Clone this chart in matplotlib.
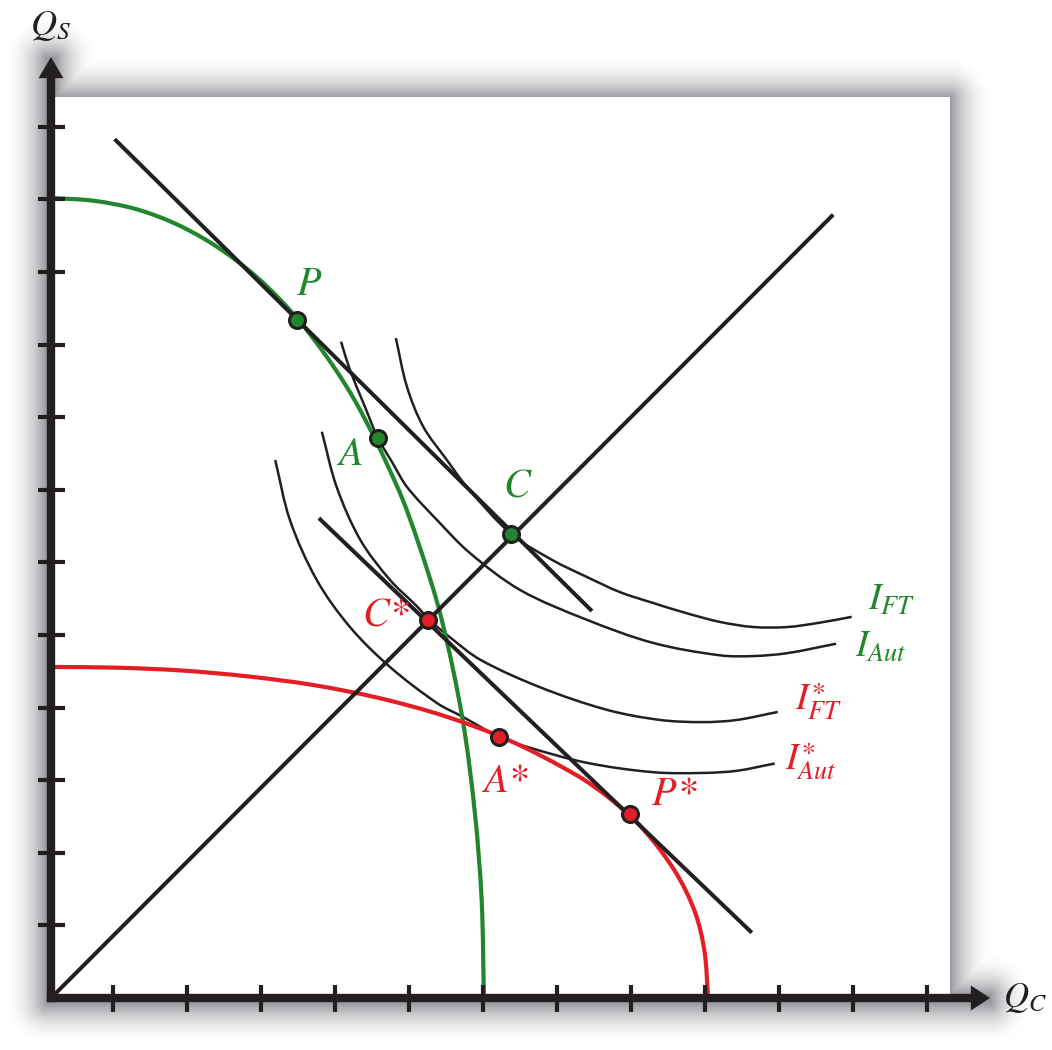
import numpy as np
import matplotlib
matplotlib.use('Agg')
import matplotlib.pyplot as plt
from matplotlib.path import Path
from matplotlib.patches import PathPatch

plt.rcParams['mathtext.fontset'] = 'stix'

# --- data (axis units: 1 unit = one tick step) ---
x_ticks = [0.84, 1.84, 2.84, 3.84, 4.84, 5.84, 6.84, 7.84, 8.84, 9.84, 10.84, 11.84]
y_ticks = [1, 2, 3, 4, 5, 6, 7, 8, 9, 10, 11, 12]

ppf_home_x = [0, 0.585, 1.17, 1.755, 2.34, 2.93, 3.51, 4.10, 4.68, 4.97, 5.27, 5.56, 5.73, 5.82, 5.85]
ppf_home_y = [11.02, 10.98, 10.86, 10.63, 10.28, 9.79, 9.13, 8.24, 7.04, 6.25, 5.25, 3.85, 2.53, 1.34, 0]

ppf_for_x = [0, 0.89, 1.78, 2.66, 3.55, 4.44, 5.33, 6.21, 7.10, 7.55, 7.99, 8.43, 8.70, 8.83, 8.88]
ppf_for_y = [4.56, 4.55, 4.51, 4.43, 4.31, 4.13, 3.88, 3.54, 3.07, 2.75, 2.34, 1.75, 1.19, 0.65, 0]

ic_ft_x = [4.66, 4.81, 5.03, 5.35, 5.62, 6.22, 6.78, 7.24, 7.69, 8.14, 8.59, 9.04, 9.49, 9.95, 10.39, 10.82]
ic_ft_y = [9.09, 8.42, 7.87, 7.41, 7.04, 6.39, 6.03, 5.80, 5.59, 5.44, 5.30, 5.18, 5.11, 5.11, 5.17, 5.25]

ic_aut_x = [3.92, 4.04, 4.22, 4.42, 4.61, 4.81, 5.22, 5.66, 6.34, 7.24, 8.14, 9.04, 9.49, 9.95, 10.61]
ic_aut_y = [9.04, 8.65, 8.20, 7.71, 7.38, 7.04, 6.58, 6.13, 5.62, 5.21, 4.89, 4.72, 4.71, 4.75, 4.88]

ic_ft_star_x = [3.66, 3.86, 4.18, 4.58, 4.95, 5.11, 5.39, 5.80, 6.61, 7.51, 8.23, 8.81, 9.27, 9.82]
ic_ft_star_y = [7.80, 7.04, 6.31, 5.76, 5.39, 5.21, 4.97, 4.66, 4.28, 3.97, 3.83, 3.80, 3.83, 3.94]

ic_aut_star_x = [3.03, 3.23, 3.59, 4.04, 4.58, 5.22, 5.57, 6.05, 6.43, 7.24, 8.14, 8.81, 9.27, 9.78]
ic_aut_star_y = [7.41, 6.58, 5.76, 5.11, 4.56, 4.06, 3.87, 3.60, 3.46, 3.24, 3.11, 3.10, 3.13, 3.23]

trade_home_x = [0.86, 7.31]
trade_home_y = [11.83, 5.33]
trade_for_x = [3.62, 9.47]
trade_for_y = [6.61, 0.90]
diag_x = [0, 10.57]
diag_y = [0, 10.79]

green_pts = {'P': (3.32, 9.34), 'A': (4.42, 7.71), 'C': (6.22, 6.39)}
red_pts = {'C*': (5.09, 5.21), 'A*': (6.05, 3.60), 'P*': (7.82, 2.53)}

green_labels = {'P': (3.49, 9.82), 'A': (4.04, 7.48), 'C': (6.30, 7.04)}
red_labels = {'C*': (4.52, 5.25), 'A*': (6.14, 2.98), 'P*': (8.43, 2.80)}

GREEN = '#22862F'
RED = '#E31E26'
INK = '#231f20'

# pixel scale of the reference
PX, PY = 74.0, 72.6
W, H = 1052, 1050
OX, OY = 51, 998
x_lo, x_hi = -OX / PX, (W - OX) / PX
y_lo, y_hi = (OY - H) / PY, OY / PY


def smooth_path(xs, ys):
    # chord-length Catmull-Rom drawn as cubic Bezier segments through the points
    p = np.column_stack([xs, ys]).astype(float)
    seg = np.hypot(*np.diff(p, axis=0).T)
    t = np.concatenate([[0], np.cumsum(seg)])
    n = len(p)
    m = np.zeros_like(p)
    for i in range(n):
        a, b = max(i - 1, 0), min(i + 1, n - 1)
        m[i] = (p[b] - p[a]) / (t[b] - t[a])
    verts = [p[0]]
    codes = [Path.MOVETO]
    for i in range(n - 1):
        h = seg[i] / 3
        verts += [p[i] + m[i] * h, p[i + 1] - m[i + 1] * h, p[i + 1]]
        codes += [Path.CURVE4] * 3
    return Path(verts, codes)


def draw_curve(ax, xs, ys, **kw):
    ax.add_patch(PathPatch(smooth_path(xs, ys), fill=False, capstyle='butt', **kw))


fig = plt.figure(figsize=(W / 100, H / 100), dpi=100)
ax = fig.add_axes([0, 0, 1, 1])
ax.set_xlim(x_lo, x_hi)
ax.set_ylim(y_lo, y_hi)
ax.axis('off')

# drop shadow around panel and axes
yy, xx = np.mgrid[0:H, 0:W].astype(float)
def rect_dist(x0, x1, y0, y1):
    dx = np.maximum(np.maximum(x0 - xx, 0), xx - x1)
    dy = np.maximum(np.maximum(y0 - yy, 0), yy - y1)
    return np.hypot(dx, dy)
d = np.minimum(rect_dist(51, 950, 97, 998), rect_dist(46, 55, 57, 1003))
d = np.minimum(d, rect_dist(46, 990, 994, 1003))
alpha = 0.6 * np.clip(1 - d / 44, 0, 1) ** 2.2
img = np.zeros((H, W, 4))
img[..., 0] = 0.34
img[..., 1] = 0.34
img[..., 2] = 0.38
img[..., 3] = alpha
ax.imshow(img, extent=[x_lo, x_hi, y_lo, y_hi], origin='upper', aspect='auto', zorder=0)

# white panel
ax.fill([0, 899 / PX, 899 / PX, 0], [0, 0, 901 / PY, 901 / PY], color='white', zorder=1, lw=0)

# curves
draw_curve(ax, ppf_home_x, ppf_home_y, edgecolor=GREEN, lw=3.0, zorder=3)
draw_curve(ax, ppf_for_x, ppf_for_y, edgecolor=RED, lw=3.0, zorder=3)
for cx, cy in [(ic_ft_x, ic_ft_y), (ic_aut_x, ic_aut_y),
               (ic_ft_star_x, ic_ft_star_y), (ic_aut_star_x, ic_aut_star_y)]:
    draw_curve(ax, cx, cy, edgecolor=INK, lw=1.8, zorder=2)
ax.plot(trade_home_x, trade_home_y, color=INK, lw=2.9, zorder=4, solid_capstyle='butt')
ax.plot(trade_for_x, trade_for_y, color=INK, lw=2.9, zorder=4, solid_capstyle='butt')
ax.plot(diag_x, diag_y, color=INK, lw=2.9, zorder=4, solid_capstyle='butt')

# axes with arrows and ticks
ax.plot([0, 0], [0, 12.72], color=INK, lw=6, zorder=5, solid_capstyle='projecting')
ax.plot([0, 12.45], [0, 0], color=INK, lw=6, zorder=5, solid_capstyle='projecting')
ax.fill([-12.5 / PX, 12.5 / PX, 0], [12.67, 12.67, 12.96], color=INK, zorder=5, lw=0)
ax.fill([12.43, 12.43, 12.69], [-12.5 / PY, 12.5 / PY, 0], color=INK, zorder=5, lw=0)
tx, ty = 13.5 / PX, 13.5 / PY
for t in x_ticks:
    ax.plot([t, t], [-ty, ty], color=INK, lw=3, zorder=5, solid_capstyle='butt')
for t in y_ticks:
    ax.plot([-tx, tx], [t, t], color=INK, lw=3, zorder=5, solid_capstyle='butt')

# points
for name, (px, py) in green_pts.items():
    ax.plot(px, py, 'o', ms=11.5, mfc=GREEN, mec=INK, mew=2.2, zorder=6)
for name, (px, py) in red_pts.items():
    ax.plot(px, py, 'o', ms=11.5, mfc=RED, mec=INK, mew=2.2, zorder=6)

lab = dict(fontfamily='STIXGeneral', fontstyle='italic', fontsize=29, ha='center', va='center', zorder=7)
for name, (lx, ly) in green_labels.items():
    ax.text(lx, ly, name, color=GREEN, **lab)
for name, (lx, ly) in red_labels.items():
    ax.text(lx, ly, name, color=RED, **lab)

curve_lab = dict(fontsize=27, ha='left', va='baseline', zorder=7)
ax.text(11.04, 5.34, r'$I_{FT}$', color=GREEN, **curve_lab)
ax.text(10.86, 4.70, r'$I_{Aut}$', color=GREEN, **curve_lab)
ax.text(10.05, 3.97, r'$I^{\ast}_{FT}$', color=RED, **curve_lab)
ax.text(9.92, 3.14, r'$I^{\ast}_{Aut}$', color=RED, **curve_lab)

ax.text(-0.28, 13.26, r'$Q_S$', color=INK, fontsize=26, ha='left', va='baseline', zorder=7)
ax.text(12.87, -0.12, r'$Q_C$', color=INK, fontsize=25, ha='left', va='baseline', zorder=7)

fig.savefig('out.png', dpi=100, facecolor='white')
